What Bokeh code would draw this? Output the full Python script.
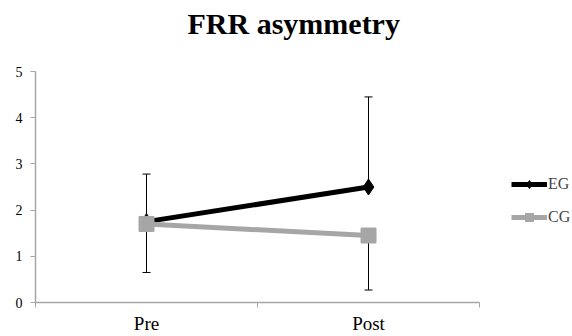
from bokeh.plotting import figure
from bokeh.models import Range1d, FixedTicker, Whisker, ColumnDataSource, Legend, LegendItem, TeeHead, Title
from bokeh.embed import file_html
from bokeh.resources import INLINE

categories = ["Pre", "Post"]
cat_pos = [0.5, 1.5]
eg_values = [1.75, 2.5]
eg_err_up = [1.03, 1.95]
cg_values = [1.7, 1.45]
cg_err_down = [1.05, 1.18]
y_ticks = [0, 1, 2, 3, 4, 5]

FONT = "Liberation Serif"

# frame spans 35..572 px; x axis (categories) covers data 0..2 (222 px per category)
p = figure(width=572, height=336, output_backend="svg", toolbar_location=None,
           x_range=Range1d(0, (572 - 35) / 222), y_range=Range1d(0, 5),
           min_border_left=35, min_border_right=0, min_border_bottom=33, min_border_top=71)
p.title.text = "FRR asymmetry"
p.title.text_font = FONT
p.title.text_font_size = "30px"
p.title.text_font_style = "bold"
p.title.text_color = "black"
p.title.align = "left"
p.title.vertical_align = "bottom"
p.title.offset = 152
p.title.standoff = 0
# spacer between title and frame
p.add_layout(Title(text=" ", text_font_size="1px", standoff=29), "above")
p.outline_line_color = None
p.grid.visible = False

p.xaxis.bounds = (0, 2)
p.xaxis.ticker = FixedTicker(ticks=cat_pos, minor_ticks=[0, 1, 2])
p.xaxis.major_label_overrides = {cat_pos[i]: categories[i] for i in range(len(categories))}
p.xaxis.major_tick_line_color = None
p.xaxis.major_tick_out = 0
p.xaxis.major_tick_in = 0
p.xaxis.minor_tick_out = 5
p.xaxis.minor_tick_in = 0
p.xaxis.minor_tick_line_color = "#a6a6a6"
p.xaxis.axis_line_color = "#a6a6a6"
p.xaxis.axis_line_width = 1.5
p.xaxis.major_label_text_font = FONT
p.xaxis.major_label_text_font_size = "19px"
p.xaxis.major_label_text_color = "black"
p.xaxis.major_label_standoff = 5

p.yaxis.ticker = FixedTicker(ticks=y_ticks)
p.yaxis.minor_tick_line_color = None
p.yaxis.major_tick_out = 5
p.yaxis.major_tick_in = 0
p.yaxis.major_tick_line_color = "#a6a6a6"
p.yaxis.axis_line_color = "#a6a6a6"
p.yaxis.axis_line_width = 1.5
p.yaxis.major_label_text_font = FONT
p.yaxis.major_label_text_font_size = "14px"
p.yaxis.major_label_text_color = "black"
p.yaxis.major_label_standoff = 8

eg_src = ColumnDataSource(dict(x=cat_pos, y=eg_values,
                               up=[v + e for v, e in zip(eg_values, eg_err_up)]))
cg_src = ColumnDataSource(dict(x=cat_pos, y=cg_values,
                               lo=[v - e for v, e in zip(cg_values, cg_err_down)]))

w1 = Whisker(source=eg_src, base="x", lower="y", upper="up", line_color="black", line_width=1,
             upper_head=TeeHead(size=8, line_color="black", line_width=1),
             lower_head=None)
w2 = Whisker(source=cg_src, base="x", lower="lo", upper="y", line_color="black", line_width=1,
             lower_head=TeeHead(size=8, line_color="black", line_width=1),
             upper_head=None)
p.add_layout(w1)
p.add_layout(w2)

eg_line = p.line("x", "y", source=eg_src, line_color="black", line_width=5)
eg_mark = p.scatter("x", "y", source=eg_src, marker="diamond", size=16,
                    fill_color="black", line_color="black")
cg_line = p.line("x", "y", source=cg_src, line_color="#a6a6a6", line_width=5)
cg_mark = p.scatter("x", "y", source=cg_src, marker="square", size=15,
                    fill_color="#a6a6a6", line_color="#a6a6a6")

legend = Legend(items=[LegendItem(label="EG", renderers=[eg_line, eg_mark]),
                       LegendItem(label="CG", renderers=[cg_line, cg_mark])],
                location=(476, 75), orientation="vertical",
                glyph_width=36, glyph_height=20, spacing=13, padding=0, margin=0,
                label_standoff=1, label_text_font=FONT, label_text_font_size="16px",
                border_line_color=None, background_fill_alpha=0)
p.add_layout(legend, "center")

open("out.html", "w").write(file_html(p, INLINE))
